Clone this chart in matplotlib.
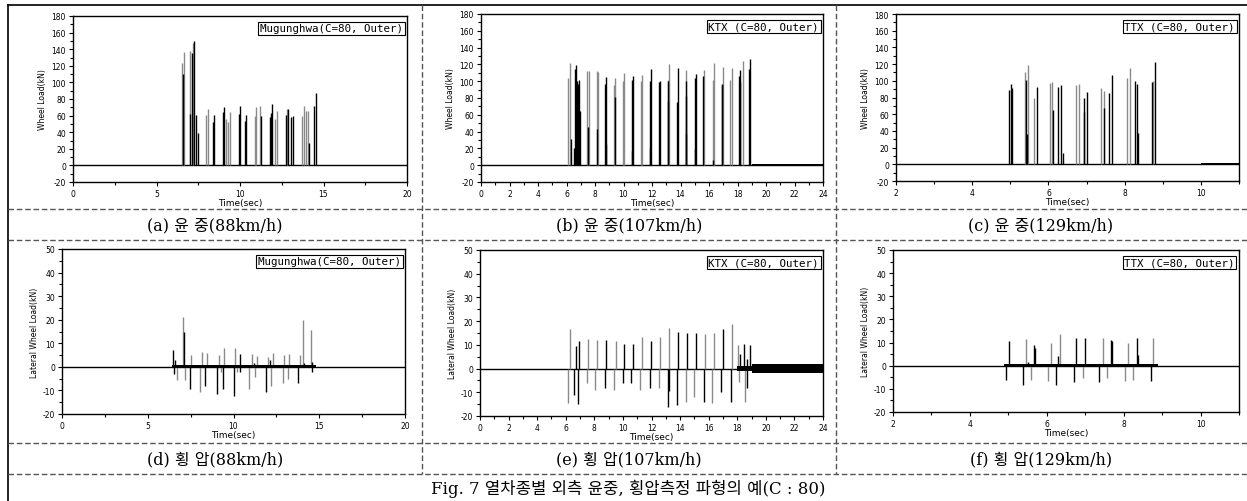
import matplotlib
matplotlib.use('Agg')
import matplotlib.pyplot as plt
from matplotlib.lines import Line2D
from matplotlib.ticker import MultipleLocator

plt.rcParams['axes.unicode_minus'] = False

W, H = 1247, 502

# (a) Mugunghwa wheel load
mug_load_gray_t = [6.5, 6.63, 7.03, 7.17, 7.98, 8.1, 9.18, 9.3, 9.38, 10.88, 10.98, 11.22,
                   12.1, 12.24, 12.83, 13.73, 13.81, 13.93, 14.07]
mug_load_gray_v = [123, 137, 138, 148, 61, 68, 56, 52, 64, 60, 70, 72, 56, 66, 68, 60, 72, 66, 66]
mug_load_black_t = [6.56, 6.99, 7.1, 7.23, 7.39, 7.48, 8.38, 8.44, 8.98, 9.04, 9.94, 10.0, 10.3,
                    10.38, 11.28, 11.82, 11.88, 11.94, 12.77, 12.9, 13.03, 13.17, 14.13, 14.41, 14.53]
mug_load_black_v = [110, 62, 135, 150, 61, 39, 52, 61, 64, 70, 62, 72, 54, 61, 59, 58, 63, 74,
                    61, 68, 58, 60, 27, 72, 87]

# (b) KTX wheel load
ktx_load_gray_t = [6.14, 6.26, 7.45, 7.55, 8.13, 8.19, 9.36, 9.43, 9.98, 10.06, 11.22, 11.31,
                   13.10, 13.17, 14.40, 15.68, 16.26, 16.34, 16.96, 17.50, 17.58, 18.38]
ktx_load_gray_v = [104, 122, 112, 112, 112, 111, 96, 104, 100, 110, 100, 107, 102, 120, 113,
                   113, 102, 122, 117, 102, 116, 124]
ktx_load_black_t = [6.35, 6.56, 6.63, 6.70, 6.77, 6.84, 6.91, 6.98, 7.52, 8.16, 8.72, 8.80, 8.76,
                    9.41, 10.58, 10.65, 10.62, 11.85, 11.92, 11.88, 12.46, 12.53, 13.12, 13.15,
                    13.74, 13.80, 14.36, 14.38, 14.42, 14.99, 15.06, 15.02, 15.61, 16.30, 16.89,
                    16.93, 18.13, 18.20, 18.17, 18.80, 18.86]
ktx_load_black_v = [31, 21, 115, 119, 100, 97, 102, 65, 45, 43, 97, 105, 25, 81, 101, 106, 17,
                    100, 114, 20, 99, 100, 100, 77, 75, 116, 82, 100, 37, 104, 109, 19, 106, 6,
                    97, 95, 106, 113, 99, 115, 126]
ktx_load_band = ([19.0, 24.0], [-1.0, -1.0], [1.8, 1.8])

# (c) TTX wheel load
ttx_load_gray_t = [5.39, 5.47, 5.61, 6.04, 6.1, 6.71, 6.79, 7.37, 7.45, 8.05, 8.13, 8.74]
ttx_load_gray_v = [110, 119, 80, 97, 98, 95, 96, 91, 88, 103, 115, 100]
ttx_load_black_t = [4.97, 5.01, 5.04, 5.41, 5.44, 5.69, 6.13, 6.26, 6.34, 6.37, 6.92, 6.94, 7.0,
                    7.47, 7.6, 7.68, 8.28, 8.33, 8.35, 8.71, 8.79]
ttx_load_black_v = [89, 96, 91, 101, 36, 93, 65, 92, 95, 14, 63, 80, 87, 68, 85, 107, 100, 96,
                    37, 99, 123]
ttx_load_band = ([10.0, 11.0], [0.0, 0.0], [1.0, 1.0])

# (d) Mugunghwa lateral load
mug_lat_gray_t = [6.7, 7.05, 7.2, 7.52, 8.06, 8.17, 8.45, 9.13, 9.28, 9.46, 10.1, 10.23, 10.93,
                  11.07, 11.26, 11.36, 12.0, 12.17, 12.33, 12.87, 12.95, 13.15, 13.22, 13.88,
                  14.04, 14.5]
mug_lat_gray_v = [-5.5, 21, -5.5, 5, -10.5, 6.5, 6, 5, -2, 8, 8, -2, -9.5, 5.5, -4.5, 4.5, 4,
                  -8, 6, -7, 5, -5, 5.5, 5, 20, 15.5]
mug_lat_black_t = [6.5, 6.52, 6.6, 7.12, 7.44, 8.35, 9.03, 9.38, 10.0, 10.35, 10.4, 11.2, 11.9,
                   12.1, 13.79, 14.1, 14.55, 14.6]
mug_lat_black_v = [7, -3, 3, 15, -9.5, -8, -11.5, -9.5, -12.5, 5.5, -2, 1.5, -10.5, 3, -7, 1.5,
                   2, -2]
mug_lat_band = ([6.4, 14.8], [-0.5, -0.5], [0.8, 0.8])

# (e) KTX lateral load
ktx_lat_gray_t = [6.15, 6.29, 7.48, 7.55, 8.07, 8.18, 9.37, 9.51, 11.19, 11.35, 12.49, 12.59,
                  13.24, 14.41, 14.97, 15.76, 16.25, 16.36, 17.62, 18.07, 18.1, 18.56]
ktx_lat_gray_v = [-14.5, 16.5, -6, 12.5, -9, 12, -9, 11.5, -9, 13.5, -8, 13.5, 17, -14, -12,
                  14.5, -14.5, 15, 19, 10, -5.5, -14]
ktx_lat_black_t = [6.6, 6.71, 6.83, 6.95, 8.74, 8.81, 10.02, 10.09, 10.58, 10.68, 11.89, 11.96,
                   13.17, 13.2, 13.8, 13.87, 14.48, 15.08, 15.66, 16.88, 17.02, 17.53, 18.18,
                   18.47, 18.68, 18.7, 18.88]
ktx_lat_black_v = [-11, 9.5, -15, 11.5, -8, 12, -6, 10.5, -6, 10.5, -8, 11.5, -16, -9.5, -15.5,
                   15.5, 15, 15, -14, -10, 16.5, -14, 6, 10.5, 4, -8, 10]
ktx_lat_band = ([18.0, 19.0, 19.0, 24.0], [-1.0, -1.0, -1.8, -1.8], [1.0, 1.0, 1.8, 1.8])

# (f) TTX lateral load
ttx_lat_gray_t = [5.45, 5.6, 6.04, 6.1, 6.35, 6.93, 7.45, 7.57, 8.03, 8.1, 8.25, 8.77]
ttx_lat_gray_v = [11.5, -6, -6.5, 10, 13.5, -5.5, 12, -5.5, -6.5, 10, -6, 12]
ttx_lat_black_t = [4.95, 5.02, 5.39, 5.5, 5.66, 5.69, 6.25, 6.3, 6.7, 6.77, 7.0, 7.36, 7.67,
                   7.69, 8.34, 8.36, 8.71]
ttx_lat_black_v = [-6, 10.5, -8.5, 1.5, 9, 7.5, -8.5, 4, -7, 12, 12, -7, 11, 10.5, 12, 4.5, -6.5]
ttx_lat_band = ([4.9, 8.9], [-0.4, -0.4], [0.7, 0.7])

captions = ['(a) 윤 중(88km/h)', '(b) 윤 중(107km/h)', '(c) 윤 중(129km/h)',
            '(d) 횡 압(88km/h)', '(e) 횡 압(107km/h)', '(f) 횡 압(129km/h)']
fig_title = 'Fig. 7 열차종별 외측 윤중, 횡압측정 파형의 예(C : 80)'

GRAY = '#8a8a8a'
KFONT = ['DejaVu Serif', 'Noto Sans CJK KR']


def box(l, r, t, b):
    return [l / W, 1 - b / H, (r - l) / W, (b - t) / H]


def draw_panel(rect, gray_t, gray_v, black_t, black_v, band, xlim, ylim, xstep, ystep,
               ylabel, tag):
    ax = fig.add_axes(box(*rect))
    ax.axhline(0, color='black', lw=1.0, zorder=1)
    ax.vlines(gray_t, 0, gray_v, color=GRAY, lw=1.0, zorder=2)
    ax.vlines(black_t, 0, black_v, color='black', lw=1.0, zorder=3)
    if band is not None:
        ax.fill_between(band[0], band[1], band[2], color='black', lw=0, zorder=3)
    ax.set_xlim(*xlim)
    ax.set_ylim(*ylim)
    ax.xaxis.set_major_locator(MultipleLocator(xstep))
    ax.xaxis.set_minor_locator(MultipleLocator(xstep / 2))
    ax.yaxis.set_major_locator(MultipleLocator(ystep))
    ax.yaxis.set_minor_locator(MultipleLocator(ystep / 2))
    ax.tick_params(which='both', direction='out', labelsize=5.5, pad=2, width=0.8)
    ax.tick_params(which='major', length=3)
    ax.tick_params(which='minor', length=2)
    for s in ax.spines.values():
        s.set_linewidth(1.0)
    ax.set_ylabel(ylabel, fontsize=5.5, labelpad=3)
    ax.set_xlabel('Time(sec)', fontsize=6.5, labelpad=0)
    ax.text(0.988, 0.955, tag, transform=ax.transAxes, ha='right', va='top',
            family='DejaVu Sans Mono', fontsize=7.8,
            bbox=dict(boxstyle='square,pad=0.15', fc='white', ec='black', lw=0.8))
    return ax


fig = plt.figure(figsize=(W / 100, H / 100), dpi=100)

draw_panel((73, 407, 17, 183), mug_load_gray_t, mug_load_gray_v, mug_load_black_t,
           mug_load_black_v, None, (0, 20), (-20, 180), 5, 20,
           'Wheel Load(kN)', 'Mugunghwa(C=80, Outer)')
draw_panel((481, 823, 15, 183), ktx_load_gray_t, ktx_load_gray_v, ktx_load_black_t,
           ktx_load_black_v, ktx_load_band, (0, 24), (-20, 180), 2, 20,
           'Wheel Load(kN)', 'KTX (C=80, Outer)')
draw_panel((896, 1239, 15, 182), ttx_load_gray_t, ttx_load_gray_v, ttx_load_black_t,
           ttx_load_black_v, ttx_load_band, (2, 11), (-20, 180), 2, 20,
           'Wheel Load(kN)', 'TTX (C=80, Outer)')
draw_panel((62, 405, 250, 415), mug_lat_gray_t, mug_lat_gray_v, mug_lat_black_t,
           mug_lat_black_v, mug_lat_band, (0, 20), (-20, 50), 5, 10,
           'Lateral Wheel Load(kN)', 'Mugunghwa(C=80, Outer)')
draw_panel((480, 823, 251, 417), ktx_lat_gray_t, ktx_lat_gray_v, ktx_lat_black_t,
           ktx_lat_black_v, ktx_lat_band, (0, 24), (-20, 50), 2, 10,
           'Lateral Wheel Load(kN)', 'KTX (C=80, Outer)')
draw_panel((893, 1239, 251, 413), ttx_lat_gray_t, ttx_lat_gray_v, ttx_lat_black_t,
           ttx_lat_black_v, ttx_lat_band, (2, 11), (-20, 50), 2, 10,
           'Lateral Wheel Load(kN)', 'TTX (C=80, Outer)')


def fig_line(x0, y0, x1, y1, dashed=True):
    ls = (0, (4, 2)) if dashed else '-'
    col = '#555555' if dashed else 'black'
    fig.add_artist(Line2D([x0 / W, x1 / W], [1 - y0 / H, 1 - y1 / H], color=col,
                          lw=1.0 if dashed else 1.2, ls=ls, transform=fig.transFigure))


# table frame
fig_line(8, 6, 1247, 6, dashed=False)
fig_line(8, 6, 8, 502, dashed=False)
for y in (210, 241, 444, 475):
    fig_line(8, y, 1247, y)
for x in (422, 836):
    fig_line(x, 6, x, 475)

col_centers = [215, 629, 1041]
for i, cap in enumerate(captions):
    cy = 226 if i < 3 else 460
    fig.text(col_centers[i % 3] / W, 1 - cy / H, cap, ha='center', va='center',
             fontsize=11.5, family=KFONT)
fig.text(628 / W, 1 - 489 / H, fig_title, ha='center', va='center', fontsize=12, family=KFONT)

fig.savefig('out.png', dpi=100)
